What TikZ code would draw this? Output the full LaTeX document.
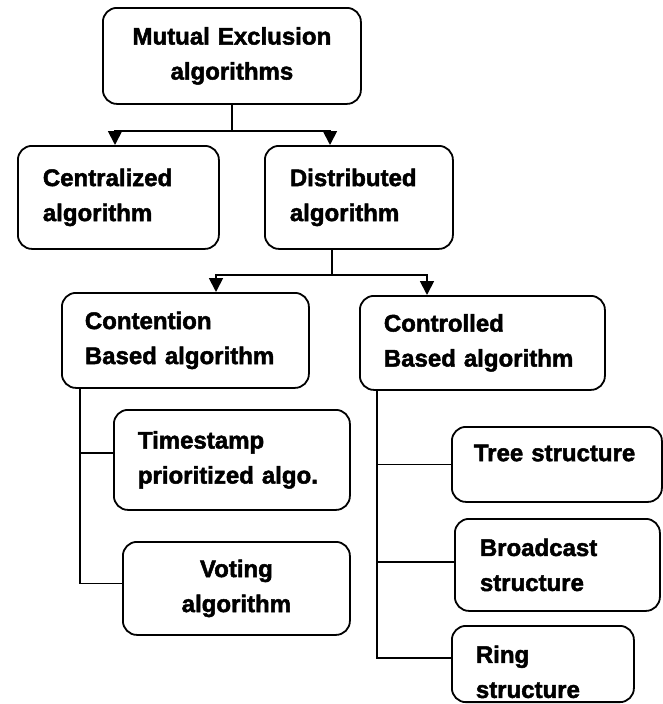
\documentclass[tikz,border=0pt]{standalone}
\usepackage{fontspec}
\setmainfont{Liberation Sans}[BoldFeatures={FakeBold=2}]
\usetikzlibrary{arrows.meta}

\begin{document}
\begin{tikzpicture}[x=1pt, y=-1pt,
    box/.style={draw, line width=1.8pt, rounded corners=14pt, anchor=north west, align=left,
        inner ysep=4pt, font=\fontsize{24}{35}\selectfont\bfseries},
    link/.style={line width=1.8pt},
    arr/.style={link, -{Triangle[length=14pt, width=14pt]}}]
    \useasboundingbox (0,0) rectangle (662,704);

    \node[box, align=center, inner xsep=10pt, text width=238pt, minimum height=96pt] (mutex) at (102,7) {Mutual Exclusion\\algorithms};
    \node[box, inner xsep=25pt, text width=151pt, minimum height=103pt] (cent) at (17,145) {Centralized\\algorithm};
    \node[box, inner xsep=25pt, text width=138pt, minimum height=103pt] (dist) at (264,145) {Distributed\\algorithm};
    \node[box, inner xsep=23pt, text width=201pt, minimum height=95pt] (cont) at (61,292) {Contention\\Based algorithm};
    \node[box, inner xsep=24pt, text width=197pt, minimum height=94pt] (ctrl) at (359,295) {Controlled\\Based algorithm};
    \node[box, inner xsep=24pt, text width=188pt, minimum height=100pt] (time) at (113,409) {Timestamp\\prioritized algo.};
    \node[box, align=center, inner xsep=10pt, text width=207pt, minimum height=93pt] (vote) at (122,541) {Voting\\algorithm};
    \node[box, inner xsep=22pt, text width=166pt, minimum height=75pt, text depth=23pt] (tree) at (451,426) {Tree structure};
    \node[box, inner xsep=25pt, text width=155pt, minimum height=92pt] (bcast) at (454,518) {Broadcast\\structure};
    \node[box, inner xsep=24pt, text width=134pt, minimum height=76pt, text height=33pt] (ring) at (451,625) {Ring\\structure};

    % first split
    \draw[link] (mutex.south) -- ++(0,26) coordinate (splitA);
    \draw[arr] (splitA) -| ([xshift=98]cent.north west);
    \draw[arr] (splitA) -| ([xshift=66]dist.north west);

    % second split
    \draw[link] ([xshift=68]dist.south west) -- ++(0,25) coordinate (splitB);
    \draw[arr] (splitB) -| ([xshift=155]cont.north west);
    \draw[arr] (splitB) -| ([xshift=68]ctrl.north west);

    % contention branches
    \coordinate (trunkL) at ([xshift=19]cont.south west);
    \draw[link] (trunkL) |- ([yshift=7]time.west);
    \draw[link] (trunkL) |- ([yshift=5]vote.west);

    % controlled branches
    \coordinate (trunkR) at ([xshift=18]ctrl.south west);
    \draw[link] (trunkR) |- (tree.west);
    \draw[link] (trunkR) |- ([yshift=3]bcast.west);
    \draw[link] (trunkR) |- ([yshift=6]ring.west);
\end{tikzpicture}
\end{document}
